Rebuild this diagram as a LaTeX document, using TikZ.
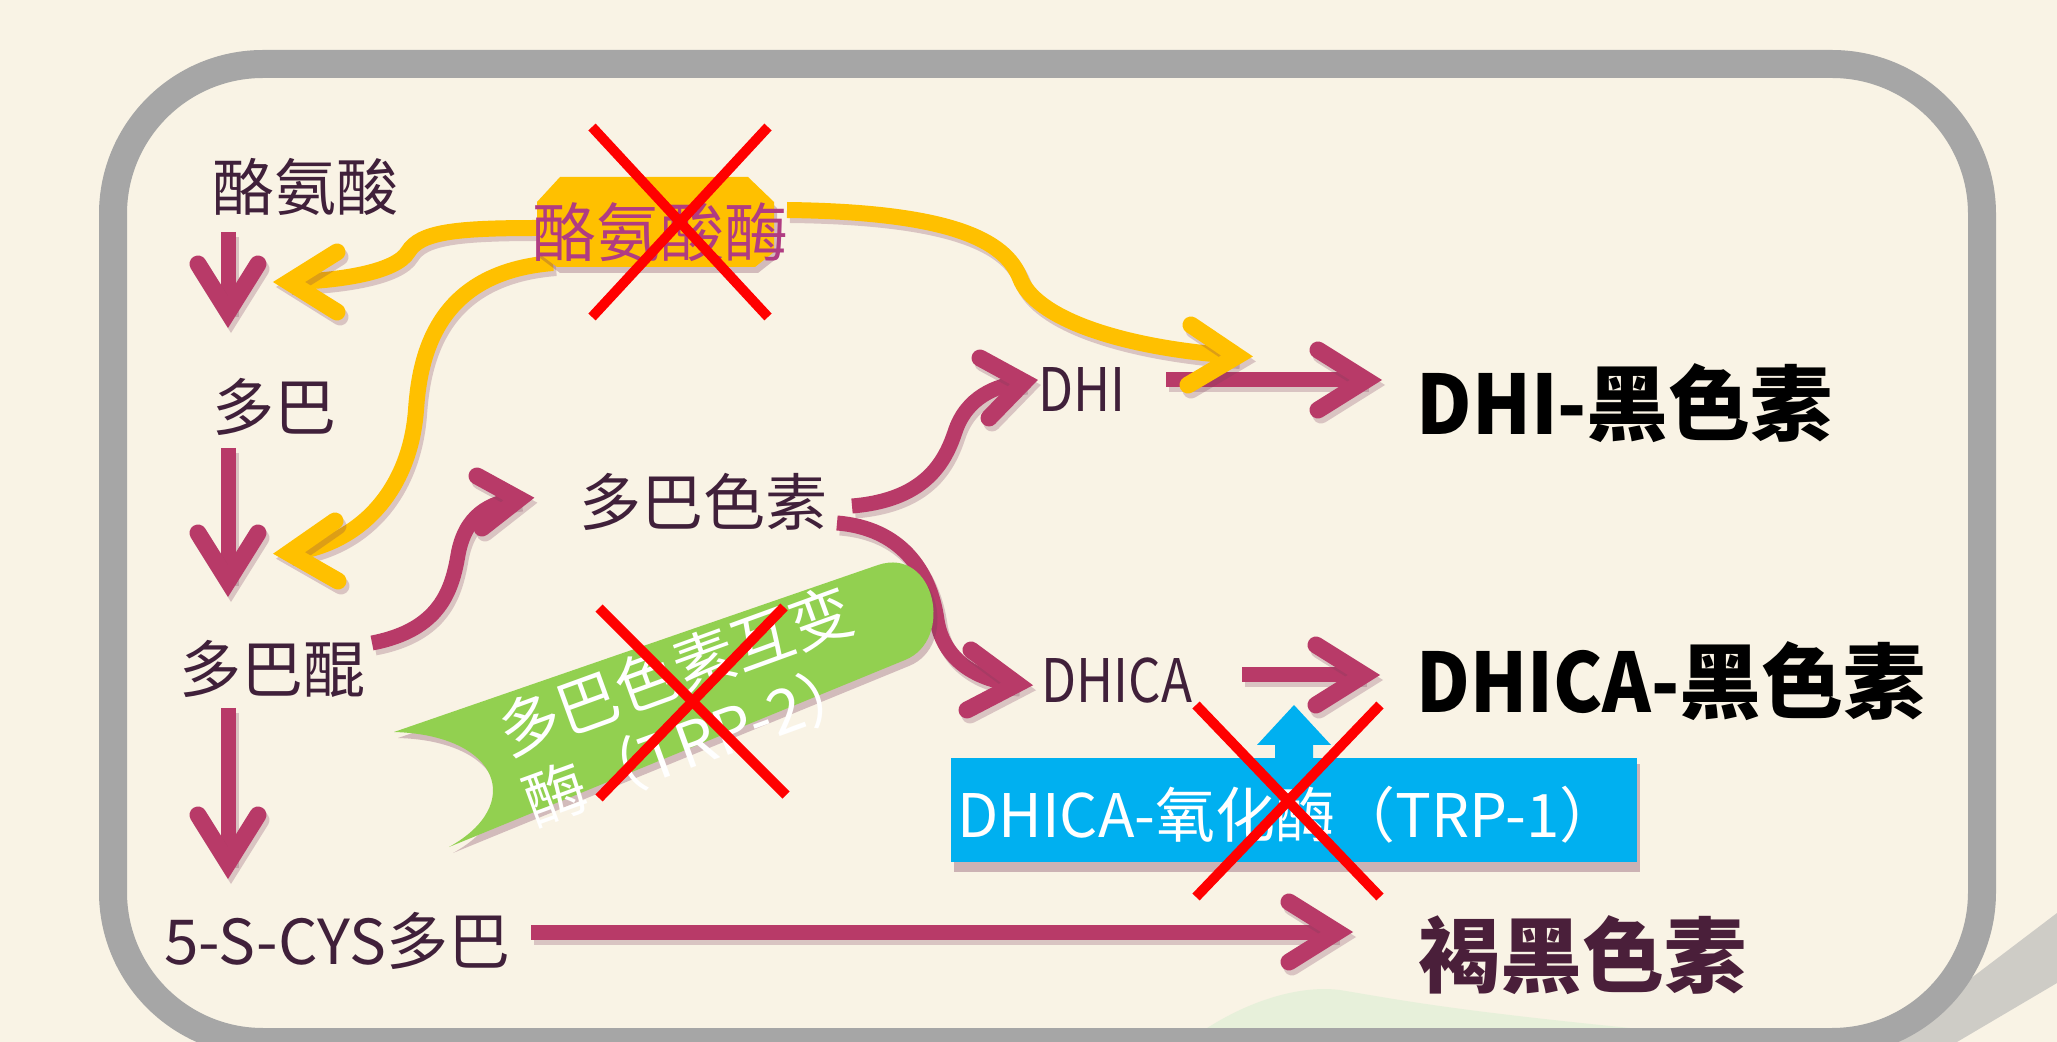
\documentclass[tikz,border=0pt]{standalone}
\usepackage{fontspec}
\setmainfont{Noto Sans CJK SC}
\definecolor{bg}{HTML}{F9F3E5}
\definecolor{framec}{HTML}{A6A6A6}
\definecolor{mag}{HTML}{B83A68}
\definecolor{yel}{HTML}{FFC000}
\definecolor{sky}{HTML}{00B0F0}
\definecolor{leaf}{HTML}{92D050}
\definecolor{ink}{HTML}{40203A}
\definecolor{plum}{HTML}{B03C82}
\definecolor{shd}{HTML}{7A3A5A}
\definecolor{bark}{HTML}{4A1F3A}
\newcommand\sdraw[2]{%
  \begin{scope}[transform canvas={shift={(1.5pt,-2.5pt)}}]\draw[#1,draw=shd,draw opacity=0.25]#2;\end{scope}%
  \draw[#1]#2;}
\newcommand\narrow[2]{\scalebox{#1}[1]{#2}}
\tikzset{
  magline/.style={draw=mag, line width=7.5pt, line cap=butt},
  maghead/.style={draw=mag, line width=8.5pt, line cap=round, line join=miter},
  yelline/.style={draw=yel, line width=8pt, line cap=butt},
  yelhead/.style={draw=yel, line width=8.5pt, line cap=round, line join=miter},
  cross/.style={draw=red, line width=5pt},
  lbl/.style={text=ink, font=\fontsize{31pt}{31pt}\selectfont, inner sep=0pt},
  smalllbl/.style={text=ink, font=\fontsize{30pt}{30pt}\selectfont, inner sep=0pt},
  biglbl/.style={text=black, font=\fontsize{41pt}{41pt}\selectfont\bfseries, inner sep=0pt, anchor=west},
  bantext/.style={text=white, rotate=20, anchor=west, inner sep=0pt, font=\fontsize{31pt}{31pt}\selectfont},
}
\begin{document}
\begin{tikzpicture}[x=0.5pt,y=-0.5pt]
\useasboundingbox (0,0) rectangle (2057,1042);
\fill[bg] (0,0) rectangle (2057,1042);
% landscape wash
\fill[gray!60, opacity=0.6] (1887,1042) -- (2057,913) -- (2057,983) -- (1957,1042) -- cycle;
\fill[gray!50!green!30, opacity=0.35] (1204,1030) .. controls (1250,1000) and (1300,985) .. (1340,990) .. controls (1400,1000) and (1450,1010) .. (1630,1028) -- cycle;
% frame
\draw[framec, line width=14pt, rounded corners=75pt] (113,64) rectangle (1982,1042);

% text nodes
\node[lbl] (tyr) at (305,187) {酪氨酸};
\node[lbl] (dopa) at (274,407) {多巴};
\node[lbl] (dq) at (272,669) {多巴醌};
\node[lbl] (cys) at (337,941) {5-S-CYS多巴};
\node[lbl] (dc) at (703,502) {多巴色素};
\node[smalllbl] (dhi) at (1082,390) {\narrow{0.85}{DHI}};
\node[smalllbl] (dhica) at (1117,681) {\narrow{0.85}{DHICA}};
\node[biglbl] (dhim) at (1416,403) {\narrow{0.93}{DHI-}黑色素};
\node[biglbl] (dhicam) at (1416,681) {\narrow{0.9}{DHICA-}黑色素};
\node[biglbl, anchor=center, text=bark] (pheo) at (1582,955) {褐黑色素};

% connector coordinates
\coordinate (d1a) at (228,232); \coordinate (d1b) at (228,312);
\coordinate (d2a) at (228,448); \coordinate (d2b) at (228,581);
\coordinate (d3a) at (228,708); \coordinate (d3b) at (228,863);
\coordinate (la) at (531,932);  \coordinate (lb) at (1337,932);
\coordinate (ha) at (1166,380); \coordinate (hb) at (1366,380);
\coordinate (ca) at (1242,675); \coordinate (cb) at (1364,675);
\coordinate (m1a) at (372,643); \coordinate (m1b) at (519,499);
\coordinate (m2a) at (852,506); \coordinate (m2b) at (1024,382);
\coordinate (m3a) at (837,523); \coordinate (m3b) at (1017,684);
\coordinate (y1a) at (537,228); \coordinate (y1b) at (289,282);
\coordinate (y2a) at (553,263); \coordinate (y2b) at (289,553);
\coordinate (y3a) at (787,210); \coordinate (y3b) at (1237,356);

% magenta arrows
\sdraw{magline}{(d1a) -- (d1b)}
\sdraw{maghead}{(d1b) ++(-30,-48) -- (d1b) -- ++(30,-48)}
\sdraw{magline}{(d2a) -- (d2b)}
\sdraw{maghead}{(d2b) ++(-30,-48) -- (d2b) -- ++(30,-48)}
\sdraw{magline}{(d3a) -- (d3b)}
\sdraw{maghead}{(d3b) ++(-30,-48) -- (d3b) -- ++(30,-48)}
\sdraw{magline}{(la) -- (lb)}
\sdraw{maghead}{(lb) ++(-48,-30) -- (lb) -- ++(-48,30)}
\sdraw{magline}{(ha) -- (hb)}
\sdraw{maghead}{(hb) ++(-48,-30) -- (hb) -- ++(-48,30)}
\sdraw{magline}{(ca) -- (cb)}
\sdraw{maghead}{(cb) ++(-48,-30) -- (cb) -- ++(-48,30)}
\sdraw{magline}{(m1a) .. controls (440,630) and (452,590) .. (458,555) .. controls (465,515) and (490,502) .. (m1b)}
\sdraw{maghead}{(m1b) ++(-42,-23) -- (m1b) -- ++(-37,29)}
\sdraw{magline}{(m2a) .. controls (925,500) and (945,462) .. (955,432) .. controls (966,398) and (995,385) .. (m2b)}
\sdraw{maghead}{(m2b) ++(-44,-24) -- (m2b) -- ++(-35,36)}
\sdraw{magline}{(m3a) .. controls (900,528) and (930,570) .. (937,620) .. controls (944,665) and (985,682) .. (m3b)}
\sdraw{maghead}{(m3b) ++(-46,-34) -- (m3b) -- ++(-50,26)}

% yellow arrows
\sdraw{yelline}{(y1a) .. controls (455,228) and (420,232) .. (408,252) .. controls (396,272) and (340,281) .. (y1b)}
\sdraw{yelhead}{(y1b) ++(48,-30) -- (y1b) -- ++(48,30)}
\sdraw{yelline}{(y2a) .. controls (440,272) and (420,350) .. (416,410) .. controls (410,490) and (360,545) .. (y2b)}
\sdraw{yelhead}{(y2b) ++(46,-32) -- (y2b) -- ++(49,28)}
\sdraw{yelline}{(y3a) .. controls (950,212) and (1005,240) .. (1020,278) .. controls (1035,318) and (1120,348) .. (y3b)}
\sdraw{yelhead}{(y3b) ++(-46,-31) -- (y3b) -- ++(-49,29)}

% tyrosinase hexagon
\begin{scope}[transform canvas={shift={(1.5pt,-3pt)}}]
\fill[shd, opacity=0.3] (560,177) -- (748,177) -- (774,202) -- (774,252) -- (755,267) -- (557,267) -- (537,252) -- (537,202) -- cycle;
\end{scope}
\fill[yel] (560,177) -- (748,177) -- (774,202) -- (774,252) -- (755,267) -- (557,267) -- (537,252) -- (537,202) -- cycle;
\node[text=plum, font=\fontsize{32pt}{32pt}\selectfont, inner sep=0pt] (enz) at (660,232) {酪氨酸酶};

% green banner (TRP-2)
\begin{scope}[transform canvas={shift={(2pt,-3pt)}}]
\fill[shd, opacity=0.3] (394,732) -- (878,565) .. controls (935,546) and (955,640) .. (905,660) -- (449,847) .. controls (525,805) and (500,735) .. (394,732) -- cycle;
\end{scope}
\fill[leaf] (394,732) -- (878,565) .. controls (935,546) and (955,640) .. (905,660) -- (449,847) .. controls (525,805) and (500,735) .. (394,732) -- cycle;
\node[bantext] (trp2a) at (500,734) {多巴色素互变};
\node[bantext] (trp2b) at (526,804) {酶（TRP-2）};

% blue box (TRP-1)
\fill[sky] (1294,705) -- (1331,745) -- (1313,745) -- (1313,760) -- (1275,760) -- (1275,745) -- (1257,745) -- cycle;
\fill[shd, opacity=0.35] (954,764) rectangle (1640,872);
\fill[sky] (951,758) rectangle (1637,862);
\node[text=white, anchor=west, inner sep=0pt, font=\fontsize{30pt}{30pt}\selectfont] (trp1) at (957,815) {DHICA-氧化酶（TRP-1）};

% red crosses
\draw[cross] (592,127) -- (768,317);
\draw[cross] (768,127) -- (592,317);
\draw[cross] (599,608) -- (786,795);
\draw[cross] (784,607) -- (599,798);
\draw[cross] (1196,705) -- (1380,897);
\draw[cross] (1380,705) -- (1196,897);
\end{tikzpicture}
\end{document}
